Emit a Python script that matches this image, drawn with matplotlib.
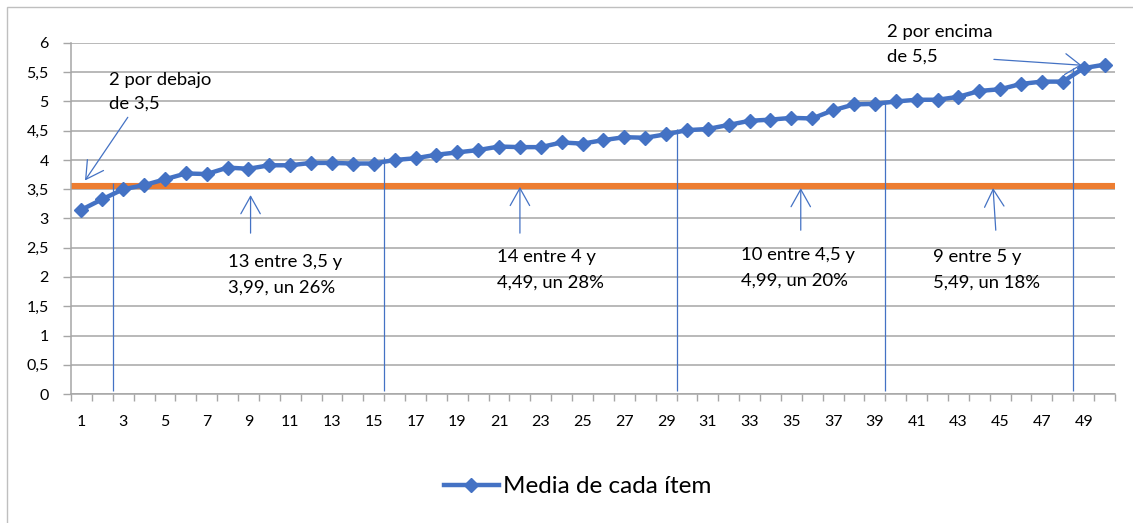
import numpy as np
import matplotlib
matplotlib.use('Agg')
import matplotlib.pyplot as plt
from matplotlib.patches import Rectangle
from matplotlib.ticker import FuncFormatter, FixedLocator

# ---------------- data ----------------
items = list(range(1, 51))
media = [3.15, 3.33, 3.50, 3.57, 3.67, 3.77, 3.76, 3.87, 3.85, 3.91,
         3.91, 3.95, 3.95, 3.94, 3.94, 4.00, 4.03, 4.09, 4.13, 4.17,
         4.23, 4.22, 4.22, 4.30, 4.28, 4.34, 4.39, 4.38, 4.44, 4.51,
         4.53, 4.60, 4.67, 4.69, 4.72, 4.71, 4.85, 4.95, 4.96, 5.00,
         5.03, 5.03, 5.08, 5.18, 5.21, 5.30, 5.34, 5.34, 5.57, 5.63]
referencia = 3.55
series_label = "Media de cada ítem"
x_tick_values = list(range(1, 50, 2))
y_tick_values = [0, 0.5, 1, 1.5, 2, 2.5, 3, 3.5, 4, 4.5, 5, 5.5, 6]

# group separators (between items) and their heights
separadores = [2.5, 15.5, 29.5, 39.5, 48.5]
separadores_top = [3.60, 4.05, 4.53, 4.97, 5.57]

grupos_texto = [
    ("13 entre 3,5 y", "3,99, un 26%"),
    ("14 entre 4 y", "4,49, un 28%"),
    ("10 entre 4,5 y", "4,99, un 20%"),
    ("9 entre 5 y", "5,49, un 18%"),
]
extremo_bajo = ("2 por debajo", "de 3,5")
extremo_alto = ("2 por encima", "de 5,5")

# ---------------- style ----------------
W, H = 1133, 523
BLUE = '#4472C4'
ORANGE = '#ED7D31'
GRID = '#a6a6a6'
FONT = ['Lato', 'DejaVu Sans']
plt.rcParams['font.family'] = FONT

fig = plt.figure(figsize=(W / 100, H / 100), dpi=100)
ax = fig.add_axes([71 / W, 129 / H, 1044 / W, 351 / H])

# outer chart border
fig.patches.append(Rectangle((7 / W, -0.02), 1.02, (H - 7) / H + 0.02,
                             transform=fig.transFigure, fill=False,
                             edgecolor='#bfbfbf', lw=1.0, zorder=0))

ax.set_xlim(0.5, 50.5)
ax.set_ylim(0, 6)

# grid
ax.yaxis.set_major_locator(FixedLocator(y_tick_values))
ax.yaxis.set_major_formatter(FuncFormatter(lambda v, _: ('%g' % v).replace('.', ',')))
ax.grid(axis='y', color=GRID, lw=1.1, zorder=0)
ax.set_axisbelow(True)

# x ticks
ax.set_xticks(x_tick_values)
ax.set_xticklabels([str(v) for v in x_tick_values])
ax.set_xticks([i + 0.5 for i in range(0, 51)], minor=True)
ax.tick_params(axis='x', which='major', length=0, pad=15, labelsize=11.5, colors='black')
ax.tick_params(axis='x', which='minor', length=5, width=1, color=GRID, direction='out')
ax.tick_params(axis='y', which='major', length=6, width=1, color=GRID, pad=10, labelsize=11.5)

for s in ['top', 'right']:
    ax.spines[s].set_visible(False)
for s in ['left', 'bottom']:
    ax.spines[s].set_color(GRID)
    ax.spines[s].set_linewidth(1.1)

# reference line
ax.axhline(referencia, color=ORANGE, lw=4.4, zorder=2)

# separators
ax.vlines(separadores, 0.05, separadores_top, color=BLUE, lw=0.9, zorder=3)

# series
line, = ax.plot(items, media, color=BLUE, lw=3.2, marker='D', ms=7.6,
                label=series_label, zorder=4, clip_on=False)

# up arrows under the groups
arrow_kw = dict(arrowstyle='->,head_length=1.25,head_width=0.7', color=BLUE,
                lw=0.9, shrinkA=0, shrinkB=0, mutation_scale=10)
arrow_pos = [((9.1, 2.75), (9.1, 3.40)), ((22.0, 2.75), (22.0, 3.54)),
             ((35.45, 2.80), (35.45, 3.52)), ((44.79, 2.80), (44.66, 3.52))]
for start, tip in arrow_pos:
    ax.annotate('', xy=tip, xytext=start, arrowprops=arrow_kw, annotation_clip=False)

TXT = 13.3
text_pos = [(8.02, 2.26, 1.81), (20.9, 2.34, 1.90), (32.6, 2.38, 1.94), (41.8, 2.34, 1.91)]
for (l1, l2), (x, y1, y2) in zip(grupos_texto, text_pos):
    ax.text(x, y1, l1, fontsize=TXT, va='center', ha='left')
    ax.text(x, y2, l2, fontsize=TXT, va='center', ha='left')

# lower extreme
ax.text(2.32, 5.37, extremo_bajo[0], fontsize=TXT, va='center', ha='left')
ax.text(2.32, 4.96, extremo_bajo[1], fontsize=TXT, va='center', ha='left')
ax.annotate('', xy=(1.17, 3.65), xytext=(3.22, 4.73), arrowprops=arrow_kw,
            annotation_clip=False)

# upper extreme
ax.text(39.6, 6.19, extremo_alto[0], fontsize=TXT, va='center', ha='left')
ax.text(39.6, 5.76, extremo_alto[1], fontsize=TXT, va='center', ha='left')
ax.annotate('', xy=(48.9, 5.62), xytext=(44.7, 5.72),
            arrowprops=dict(arrow_kw, arrowstyle='->,head_length=1.1,head_width=0.75'),
            annotation_clip=False)

fig.legend(handles=[line], labels=[series_label], loc='center',
           bbox_to_anchor=(0.51, 0.069), frameon=False, fontsize=17.5,
           handlelength=2.25, handletextpad=0.2)

fig.savefig('out.png', dpi=100)
